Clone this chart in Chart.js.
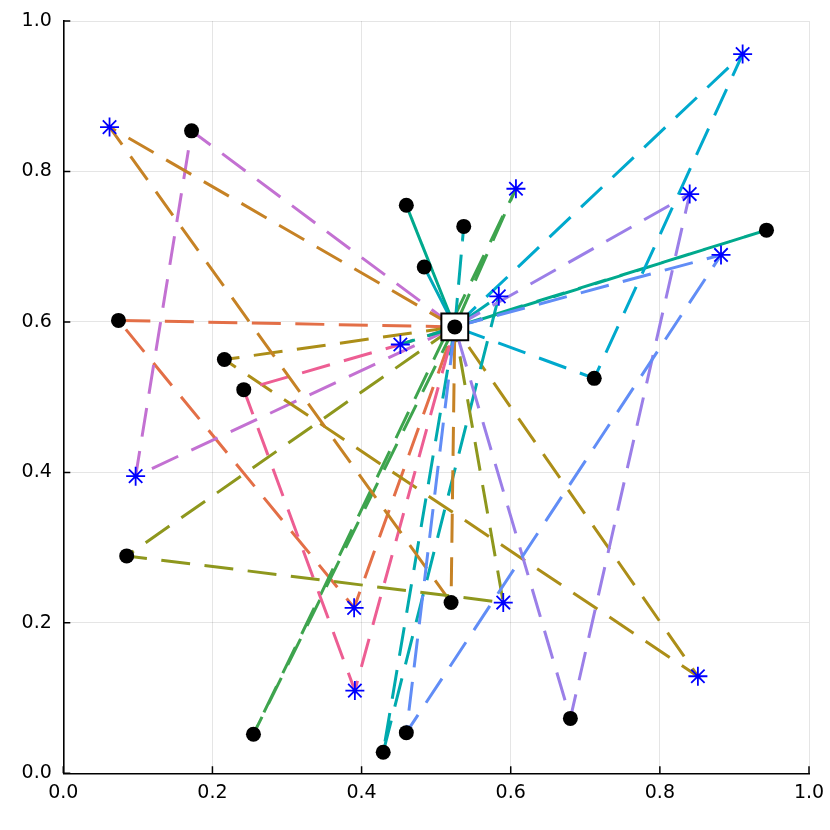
<!DOCTYPE html>
<html>
<head>
<meta charset="utf-8">
<script src="https://cdn.jsdelivr.net/npm/chart.js@4"></script>
<style>
  html, body { margin: 0; padding: 0; background: #ffffff; }
  #wrap { width: 830px; height: 830px; position: relative; }
</style>
</head>
<body>
<div id="wrap"><canvas id="c" width="830" height="830"></canvas></div>
<script>
// ---- data ----
const depotX = 0.525;
const depotY = 0.5934;

const customerIds = ['C1','C2','C3','C4','C6','C7','C8','C9','C10','C11','C12','C13','C14','C15','C16'];
const customerX = [0.172, 0.460, 0.484, 0.537, 0.943, 0.712, 0.074, 0.216, 0.242, 0.085, 0.255, 0.429, 0.460, 0.520, 0.680];
const customerY = [0.854, 0.755, 0.673, 0.727, 0.722, 0.525, 0.602, 0.550, 0.510, 0.289, 0.052, 0.028, 0.054, 0.227, 0.073];

const stationIds = ['S1','S2','S3','S4','S5','S6','S7','S8','S9','S10','S11','S12'];
const stationX = [0.062, 0.452, 0.607, 0.911, 0.840, 0.882, 0.584, 0.097, 0.390, 0.391, 0.590, 0.851];
const stationY = [0.859, 0.570, 0.777, 0.956, 0.770, 0.689, 0.634, 0.395, 0.220, 0.110, 0.227, 0.129];

const routes = [
  ['D','C8','S9','D'],
  ['D','C12','S3','D'],
  ['D','C1','S8','D'],
  ['D','C9','S12','D'],
  ['D','C13','S7','D'],
  ['D','S2','C10','S10','D'],
  ['D','S1','C15','D'],
  ['D','S2','C6','D'],
  ['D','C11','S11','D'],
  ['D','S4','C7','D'],
  ['D','S5','C16','D'],
  ['D','S6','C14','D'],
  ['D','C2','D'],
  ['D','C3','D'],
  ['D','C4','D']
];
const routeColors = ['#E36F47','#3EA44E','#C371D2','#AC8E18','#00AAAE','#ED5E93','#C68225',
                     '#00A98D','#8E971D','#00A9CD','#9B7FE8','#618DF6','#00A98D','#00A8B8','#00AAAE'];

const tickValues = [0, 0.2, 0.4, 0.6, 0.8, 1.0];
const tickLabels = ['0.0', '0.2', '0.4', '0.6', '0.8', '1.0'];

// ---- build ----
function nodeXY(id) {
  if (id === 'D') return {x: depotX, y: depotY};
  let i = customerIds.indexOf(id);
  if (i >= 0) return {x: customerX[i], y: customerY[i]};
  i = stationIds.indexOf(id);
  return {x: stationX[i], y: stationY[i]};
}

const datasets = [];
datasets.push({
  label: 'depot', data: [{x: depotX, y: depotY}], showLine: false, order: 0,
  pointStyle: 'circle', pointRadius: 7.5, pointBackgroundColor: '#000', pointBorderWidth: 0
});
datasets.push({
  label: 'customers', data: customerX.map((x, i) => ({x, y: customerY[i]})), showLine: false, order: 1,
  pointStyle: 'circle', pointRadius: 7.5, pointBackgroundColor: '#000', pointBorderWidth: 0
});
datasets.push({
  label: 'stations', data: stationX.map((x, i) => ({x, y: stationY[i]})), showLine: false, order: 2,
  pointStyle: 'star', pointRadius: 9.5, pointBorderColor: '#0000ff', pointBackgroundColor: '#0000ff', pointBorderWidth: 1.8
});
datasets.push({
  label: 'depotBox', data: [{x: depotX, y: depotY}], showLine: false, order: 3,
  pointStyle: 'rect', pointRadius: 19, pointBackgroundColor: '#fff', pointBorderColor: '#000', pointBorderWidth: 2
});
routes.forEach((r, k) => {
  datasets.push({
    label: 'route ' + (k + 1), data: r.map(nodeXY), showLine: true, order: 10 + (routes.length - k),
    borderColor: routeColors[k], borderWidth: 3, borderDash: [29, 14.5], borderCapStyle: 'butt',
    pointRadius: 0, fill: false, tension: 0
  });
});

const innerTicks = {
  id: 'innerTicks',
  afterDatasetsDraw(chart) {
    const ctx = chart.ctx, xs = chart.scales.x, ys = chart.scales.y;
    const a = chart.chartArea;
    ctx.save();
    ctx.strokeStyle = '#000'; ctx.lineWidth = 1.5;
    ctx.beginPath();
    tickValues.forEach(v => {
      const px = xs.getPixelForValue(v);
      ctx.moveTo(px, a.bottom); ctx.lineTo(px, a.bottom - 7);
      const py = ys.getPixelForValue(v);
      ctx.moveTo(a.left, py); ctx.lineTo(a.left + 7, py);
    });
    ctx.stroke();
    ctx.restore();
  }
};

const tickFont = {family: 'DejaVu Sans', size: 19};

new Chart(document.getElementById('c'), {
  type: 'scatter',
  data: { datasets },
  options: {
    responsive: false, animation: false, devicePixelRatio: 1,
    layout: { padding: { top: 19, right: 20, left: 0, bottom: 0 } },
    plugins: { legend: { display: false }, tooltip: { enabled: false } },
    events: [],
    scales: {
      x: {
        type: 'linear', min: 0, max: 1,
        afterBuildTicks: s => { s.ticks = tickValues.map(v => ({value: v})); },
        afterFit: s => { s.height = 56.7; s.paddingLeft = 0; s.paddingRight = 0; },
        ticks: { font: tickFont, color: '#000', padding: 8, maxRotation: 0,
                 callback: (v) => tickLabels[tickValues.indexOf(v)] ?? '' },
        grid: { color: 'rgba(0,0,0,0.1)', lineWidth: 1, drawTicks: false },
        border: { color: '#000', width: 1.6 }
      },
      y: {
        type: 'linear', min: 0, max: 1,
        afterBuildTicks: s => { s.ticks = tickValues.map(v => ({value: v})); },
        afterFit: s => { s.width = 63.3; s.paddingTop = 0; s.paddingBottom = 0; },
        ticks: { font: tickFont, color: '#000', padding: 11.5,
                 callback: (v) => tickLabels[tickValues.indexOf(v)] ?? '' },
        grid: { color: 'rgba(0,0,0,0.1)', lineWidth: 1, drawTicks: false },
        border: { color: '#000', width: 1.6 }
      }
    }
  },
  plugins: [innerTicks]
});
</script>
</body>
</html>
